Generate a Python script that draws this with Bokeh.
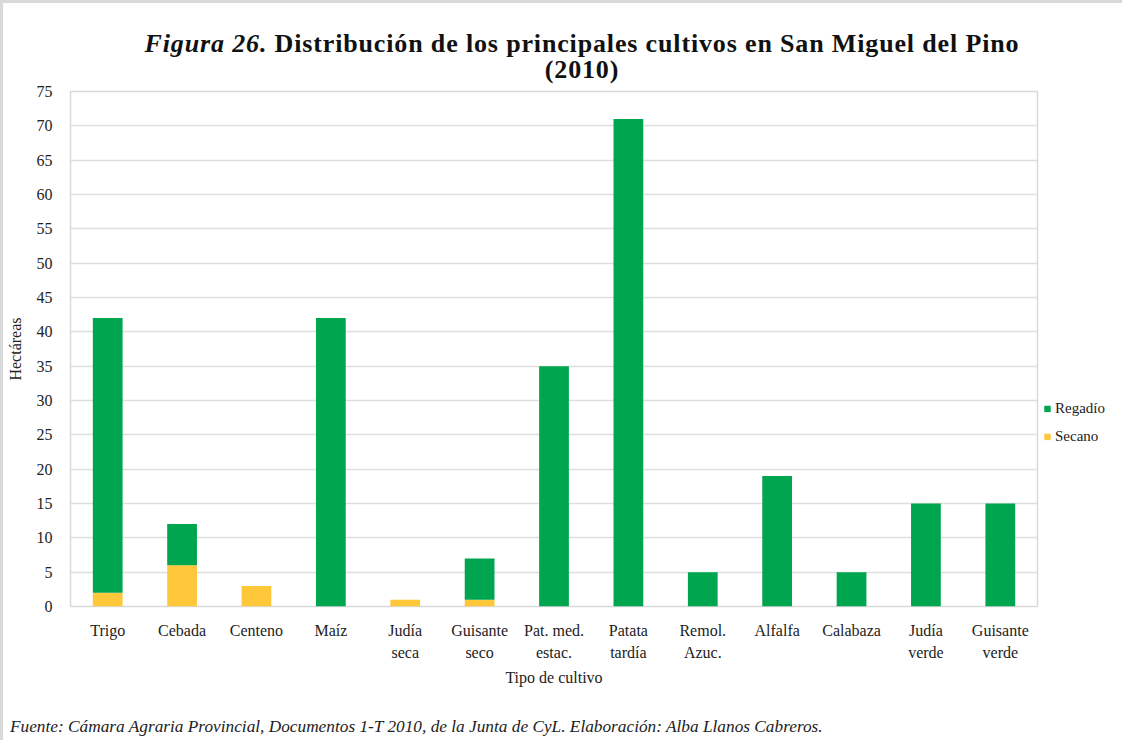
from bokeh.plotting import figure
from bokeh.models import ColumnDataSource, Legend, LegendItem, FactorRange, Div
from bokeh.layouts import column
from bokeh.embed import file_html
from bokeh.resources import INLINE

categories = ["Trigo", "Cebada", "Centeno", "Maíz", "Judía\nseca", "Guisante\nseco",
              "Pat. med.\nestac.", "Patata\ntardía", "Remol.\nAzuc.", "Alfalfa",
              "Calabaza", "Judía\nverde", "Guisante\nverde"]
secano = [2, 6, 3, 0, 1, 1, 0, 0, 0, 0, 0, 0, 0]
regadio = [40, 6, 0, 42, 0, 6, 35, 71, 5, 19, 5, 15, 15]
y_ticks = list(range(0, 80, 5))

GREEN = "#00A54F"
YELLOW = "#FFC73A"
FONT = "Liberation Serif"
TXT = "#222222"

source = ColumnDataSource(dict(cat=categories, Secano=secano, Regadio=regadio))

p = figure(x_range=FactorRange(*categories), y_range=(0, 75),
           frame_width=967, frame_height=515, output_backend="svg", toolbar_location=None,
           min_border_left=67, min_border_right=76, min_border_top=8, min_border_bottom=84)
p.border_fill_alpha = 0

renderers = p.vbar_stack(["Secano", "Regadio"], x="cat", width=0.4,
                         color=[YELLOW, GREEN], line_color=None, source=source)

p.outline_line_color = "#d9d9d9"
p.outline_line_width = 1.5
p.xgrid.grid_line_color = None
p.ygrid.grid_line_color = "#dedede"
p.ygrid.grid_line_width = 1.5
p.yaxis.ticker = y_ticks

for ax in (p.xaxis[0], p.yaxis[0]):
    ax.axis_line_color = None
    ax.major_tick_line_color = None
    ax.minor_tick_line_color = None
    ax.major_label_text_font = FONT
    ax.major_label_text_font_size = "16px"
    ax.major_label_text_color = TXT
    ax.axis_label_text_font = FONT
    ax.axis_label_text_font_size = "16px"
    ax.axis_label_text_font_style = "normal"
    ax.axis_label_text_color = TXT

p.xaxis.major_label_standoff = 9
p.xaxis.major_label_text_line_height = 1.35
p.xaxis.axis_label = "Tipo de cultivo"
p.xaxis.axis_label_standoff = 5
p.yaxis.major_label_standoff = 12
p.yaxis.axis_label = "Hectáreas"
p.yaxis.axis_label_standoff = 10

legend = Legend(items=[LegendItem(label="Regadío", renderers=[renderers[1]]),
                       LegendItem(label="Secano", renderers=[renderers[0]])],
                location="center_left", background_fill_alpha=0, border_line_color=None,
                label_text_font=FONT, label_text_font_size="15px", label_text_color=TXT,
                glyph_width=8, glyph_height=8, label_standoff=4, spacing=8,
                label_height=20, padding=0, margin=6,
                title=" ", title_text_font_size="1px", title_text_alpha=0, title_standoff=146)
p.add_layout(legend, "right")

title = Div(width=1106, height=70, text=(
    '<div style="position:relative; left:21px; padding-top:23px; text-align:center; '
    'font-family:\'Liberation Serif\'; font-size:26px; line-height:26px; letter-spacing:0.85px; '
    'font-weight:bold; color:#111111; width:1106px; white-space:nowrap;">'
    '<i>Figura 26.</i> Distribución de los principales cultivos en San Miguel del Pino'
    '<br>(2010)</div>'))
title.styles = {"overflow": "visible"}

footer = Div(width=1106, height=42, text=(
    '<div style="padding-top:22px; padding-left:2px; font-family:\'Liberation Serif\'; '
    'font-size:17.3px; line-height:20px; font-style:italic; color:#222222; white-space:nowrap;">'
    'Fuente: Cámara Agraria Provincial, Documentos 1-T 2010, de la Junta de CyL. '
    'Elaboración: Alba Llanos Cabreros.</div>'))

layout = column(title, p, footer, spacing=0)
layout.styles = {"border-top": "3px solid #d9d9d9", "border-left": "3px solid #d9d9d9"}

open("out.html", "w").write(file_html(layout, INLINE))
